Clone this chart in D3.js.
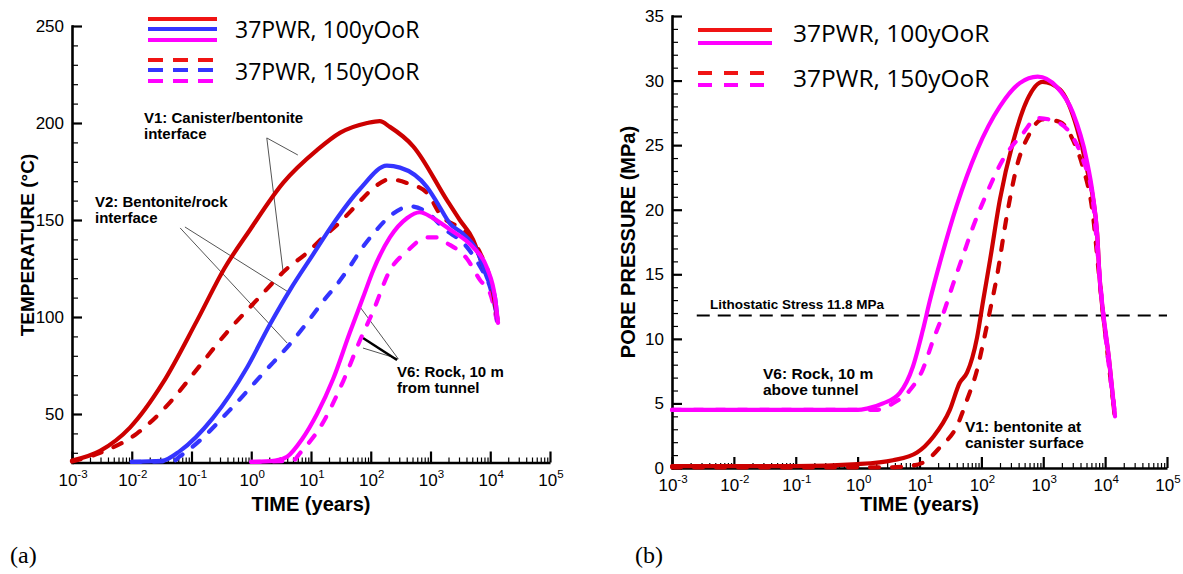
<!DOCTYPE html>
<html>
<head>
<meta charset="utf-8">
<script src="https://cdn.jsdelivr.net/npm/d3@7"></script>
<style>
body { margin: 0; background: #fff; }
svg text { font-family: "Liberation Sans", Arial, sans-serif; fill: #000; }
</style>
</head>
<body>
<svg id="fig" width="1183" height="574"></svg>
<script>
// # DATA

// Tick labels
var timeDecades = [-3, -2, -1, 0, 1, 2, 3, 4, 5];
var tempTicks = [50, 100, 150, 200, 250];
var presTicks = [0, 5, 10, 15, 20, 25, 30, 35];
var legendLabels = ['37PWR, 100yOoR', '37PWR, 150yOoR'];

// (a) Temperature: [log10(time, years), degC]
var tempV1_100 = [[-3,26],[-2.53,31],[-2.03,43],[-1.48,66],[-0.91,98],[-0.45,125],[-0.02,145],[0.53,169],[1.10,186],[1.49,195],[1.94,200],[2.15,201],[2.32,198],[2.71,188],[3.28,160],[3.49,150],[3.71,140],[3.88,126],[4.05,112],[4.12,99]];
var tempV1_150 = [[-3,25.5],[-2.53,30],[-1.91,40],[-1.36,56],[-0.91,73],[-0.41,92],[0.10,109],[0.60,125],[0.93,133],[1.20,141],[1.49,149],[1.77,158],[1.99,165],[2.32,171],[2.61,169],[2.94,164],[3.16,153],[3.61,143],[3.83,133],[4.00,119],[4.11,99]];
var tempV2_100 = [[-2,25.3],[-1.5,25.8],[-1.19,31],[-0.64,48],[-0.07,74],[0.31,96],[0.65,114],[1.03,132],[1.37,148],[1.82,166],[2.27,178],[2.49,177],[2.94,167],[3.11,159],[3.33,148],[3.54,143],[3.78,134],[3.95,120],[4.08,110],[4.12,98]];
var tempV2_150 = [[-2,25.3],[-1.3,25.8],[-1.2,28],[-0.91,35],[-0.36,52],[0.2,71],[0.7,88],[1.03,101],[1.2,108],[1.44,117],[1.65,126],[1.82,134],[2.1,145],[2.32,152],[2.66,157],[2.94,154],[3.21,146],[3.61,136],[3.83,126],[4.0,115],[4.11,101]];
var tempV6_100 = [[0,25.3],[0.4,26],[0.6,28],[0.85,37],[1.1,50],[1.37,68],[1.65,92],[1.87,110],[2.04,124],[2.32,141],[2.61,151],[2.82,154],[3.04,151],[3.33,145],[3.71,136],[3.95,125],[4.08,110],[4.13,97]];
var tempV6_150 = [[0,25.3],[0.7,26],[0.82,30],[1.15,43],[1.54,67],[1.82,88],[2.04,103],[2.32,124],[2.61,134],[2.94,141],[3.1,141],[3.28,138],[3.61,130],[3.83,119],[4.0,112],[4.11,98]];

// (b) Pore pressure: [log10(time, years), MPa]
var presV1_100 = [[-3,0.15],[-1,0.15],[0,0.3],[0.57,0.6],[0.96,1.2],[1.22,2.4],[1.49,4.5],[1.65,6.6],[1.77,7.4],[1.93,10.1],[2.03,13.0],[2.14,16.1],[2.3,20.8],[2.51,25.2],[2.74,28.5],[2.99,29.9],[3.27,29.3],[3.54,26.4],[3.7,23.3],[3.87,18.2],[3.91,14.8],[3.96,12.2],[4.06,8.5],[4.15,4.2]];
var presV1_150 = [[-3,0.05],[0.5,0.05],[0.9,0.2],[1.12,0.6],[1.33,1.6],[1.6,3.2],[1.77,5.3],[1.93,7.6],[2.03,9.7],[2.14,12.2],[2.25,14.8],[2.41,19.5],[2.57,23.3],[2.78,25.9],[2.99,27],[3.27,26.8],[3.48,25.4],[3.64,23.3],[3.8,19.7],[3.9,15],[4.0,10.5],[4.15,4.4]];
var presV6_100 = [[-3,4.5],[-1,4.5],[0,4.5],[0.15,4.6],[0.41,5.0],[0.68,5.8],[0.89,7.8],[1.05,10.6],[1.17,13.0],[1.33,15.9],[1.6,20.3],[1.93,24.6],[2.3,28],[2.62,29.8],[2.91,30.3],[3.22,29.5],[3.48,27.5],[3.7,23.9],[3.8,21.2],[3.87,18.2],[3.91,14.8],[3.96,12.4],[4.06,8.6],[4.16,4.0]];
var presV6_150 = [[-3,4.5],[0.3,4.5],[0.57,5.0],[0.84,6.0],[1.05,7.6],[1.22,9.9],[1.38,11.9],[1.54,14.2],[1.7,16.4],[1.86,18.6],[2.09,21.3],[2.35,23.9],[2.67,25.9],[2.9,27.1],[3.22,26.8],[3.48,25.6],[3.64,23.9],[3.8,20.8],[3.9,15.5],[4.0,10.5],[4.16,4.2]];
var lithoStress = 11.8;

// # STYLE
var cRed = '#cc0000';
var cRedKey = '#f01414';
var cBlue = '#3434ff';
var cMag = '#ff00ff';
var dashCurve = '9,13';

var svg = d3.select('#fig');

// Scales
var xA = d3.scaleLog().domain([1e-3, 1e5]).range([72, 550]);
var yA = d3.scaleLinear().domain([25, 250]).range([462.5, 26]);
var xB = d3.scaleLog().domain([1e-3, 1e5]).range([672, 1167]);
var yB = d3.scaleLinear().domain([0, 35]).range([468, 16]);

// # INIT
init();

function init(){
    // (a)
    drawAxes(xA, yA, tempTicks, d3.range(30, 250, 10));
    drawLeaders(xA, yA);
    drawCurve(xA, yA, tempV1_150, cRed, true);
    drawCurve(xA, yA, tempV2_150, cBlue, true);
    drawCurve(xA, yA, tempV6_150, cMag, true);
    drawCurve(xA, yA, tempV1_100, cRed, false);
    drawCurve(xA, yA, tempV2_100, cBlue, false);
    drawCurve(xA, yA, tempV6_100, cMag, false);
    drawLegend(148, 217, [19, 29, 40], [60, 70, 81], [cRedKey, cBlue, cMag], '15,10', 235, [38, 80], 23);
    drawTitles(xA, 34, 245, 'TEMPERATURE (\u00B0C)', 19, 'TIME (years)', 511);
    note(144, 123, ['V1: Canister/bentonite', 'interface'], 15);
    note(95, 207, ['V2: Bentonite/rock', 'interface'], 15);
    note(397, 377, ['V6: Rock, 10 m', 'from tunnel'], 15);
    svg.append('text').attr('x', 10).attr('y', 563)
        .style('font-family', '"Liberation Serif", serif').attr('font-size', 24).text('(a)');

    // (b)
    drawAxes(xB, yB, presTicks, d3.range(1, 35, 1));
    drawLitho();
    drawCurve(xB, yB, presV1_150, cRed, true);
    drawCurve(xB, yB, presV1_100, cRed, false);
    drawCurve(xB, yB, presV6_150, cMag, true);
    drawCurve(xB, yB, presV6_100, cMag, false);
    drawLegend(698, 772, [30, 43], [73, 85], [cRedKey, cMag], '14,12', 793, [42, 87], 24.5);
    drawTitles(xB, 635, 242, 'PORE PRESSURE (MPa)', 20, 'TIME (years)', 511);
    note(763, 379, ['V6: Rock, 10 m', 'above tunnel'], 15.5);
    note(965, 432, ['V1: bentonite at', 'canister surface'], 15.5);
    svg.append('text').attr('x', 635).attr('y', 563)
        .style('font-family', '"Liberation Serif", serif').attr('font-size', 24).text('(b)');
    return 0;
}

// # FUNCTIONS

function yrs(e){
    return Math.pow(10, e);
}

function drawAxes(xs, ys, yMajor, yMinor){
    var x0 = xs.range()[0];
    var y0 = ys.range()[0];

    // ## log minor ticks on time axis
    var xMinor = [];
    timeDecades.slice(0, -1).forEach(function(e){
        for (var m = 2; m < 10; m++){ xMinor.push(m * yrs(e)); }
    });
    var gxm = svg.append('g').attr('transform', 'translate(0,' + y0 + ')')
        .call(d3.axisBottom(xs).tickValues(xMinor).tickSize(-5).tickFormat(''));
    gxm.select('.domain').remove();
    gxm.selectAll('line').attr('stroke', '#000').attr('stroke-width', 1.2);

    var gym = svg.append('g').attr('transform', 'translate(' + x0 + ',0)')
        .call(d3.axisLeft(ys).tickValues(yMinor.filter(function(v){ return yMajor.indexOf(v) < 0; }))
            .tickSize(-6).tickFormat(''));
    gym.select('.domain').remove();
    gym.selectAll('line').attr('stroke', '#000').attr('stroke-width', 1.2);

    // ## major ticks
    var gx = svg.append('g').attr('transform', 'translate(0,' + y0 + ')')
        .call(d3.axisBottom(xs).tickValues(timeDecades.map(yrs)).tickSizeInner(-11).tickSizeOuter(0).tickFormat(''));
    gx.selectAll('line').attr('stroke', '#000').attr('stroke-width', 2.2);
    gx.select('.domain').attr('stroke', '#000').attr('stroke-width', 2.6);

    var gy = svg.append('g').attr('transform', 'translate(' + x0 + ',0)')
        .call(d3.axisLeft(ys).tickValues(yMajor).tickSizeInner(-10).tickSizeOuter(0).tickPadding(8));
    gy.selectAll('line').attr('stroke', '#000').attr('stroke-width', 2.2);
    gy.select('.domain').attr('stroke', '#000').attr('stroke-width', 2.6).attr('stroke-linecap', 'square');
    gy.selectAll('text').attr('font-size', 17).attr('font-family', null).attr('fill', '#000');

    // ## 10^n labels
    var gl = svg.append('g');
    timeDecades.forEach(function(e){
        var t = gl.append('text')
            .attr('x', xs(yrs(e)) + 1)
            .attr('y', y0 + 23)
            .attr('text-anchor', 'middle')
            .attr('font-size', 17);
        t.append('tspan').text('10');
        t.append('tspan').attr('dy', -8).attr('font-size', 11.5).text(e);
    });
    return 0;
}

function drawCurve(xs, ys, data, color, dashed){
    var line = d3.line()
        .x(function(d){ return xs(yrs(d[0])); })
        .y(function(d){ return ys(d[1]); })
        .curve(d3.curveMonotoneX);
    svg.append('path')
        .datum(data)
        .attr('d', line)
        .attr('fill', 'none')
        .attr('stroke', color)
        .attr('stroke-width', 4.2)
        .attr('stroke-linecap', 'round')
        .attr('stroke-linejoin', 'round')
        .attr('stroke-dasharray', dashed ? dashCurve : null);
    return 0;
}

function drawLegend(xl, xr, ySolid, yDash, colors, dash, xt, yText, fs){
    colors.forEach(function(c, i){
        svg.append('line').attr('x1', xl).attr('x2', xr).attr('y1', ySolid[i]).attr('y2', ySolid[i])
            .attr('stroke', c).attr('stroke-width', 4);
        svg.append('line').attr('x1', xl).attr('x2', xr).attr('y1', yDash[i]).attr('y2', yDash[i])
            .attr('stroke', c).attr('stroke-width', 4).attr('stroke-dasharray', dash);
    });
    legendLabels.forEach(function(s, i){
        svg.append('text').attr('x', xt).attr('y', yText[i])
            .style('font-family', '"Open Sans", sans-serif')
            .attr('font-size', fs).text(s);
    });
    return 0;
}

function drawTitles(xs, yLabX, yLabY, yLab, yFs, xLab, xLabY){
    var r = xs.range();
    svg.append('text')
        .attr('transform', 'translate(' + yLabX + ',' + yLabY + ') rotate(-90)')
        .attr('text-anchor', 'middle').attr('font-weight', 'bold').attr('font-size', yFs)
        .text(yLab);
    svg.append('text')
        .attr('x', r[0] + (r[1] - r[0]) * 0.5)
        .attr('y', xLabY)
        .attr('text-anchor', 'middle').attr('font-weight', 'bold').attr('font-size', 20)
        .text(xLab);
    return 0;
}

function note(x, y, lines, fs){
    var t = svg.append('text').attr('x', x).attr('y', y)
        .attr('font-weight', 'bold').attr('font-size', fs);
    lines.forEach(function(s, i){
        t.append('tspan').attr('x', x).attr('dy', i === 0 ? 0 : 15.5).text(s);
    });
    return 0;
}

function leader(xs, ys, a, b, w){
    svg.append('line')
        .attr('x1', xs(yrs(a[0]))).attr('y1', ys(a[1]))
        .attr('x2', xs(yrs(b[0]))).attr('y2', ys(b[1]))
        .attr('stroke', w > 1 ? '#000' : '#555').attr('stroke-width', w);
    return 0;
}

function drawLeaders(xs, ys){
    // V1
    leader(xs, ys, [0.26, 192.3], [0.78, 183.5], 1);
    leader(xs, ys, [0.26, 192.3], [0.53, 124.2], 1);
    // V2
    leader(xs, ys, [-1.19, 145.9], [0.60, 86.6], 1);
    leader(xs, ys, [-1.11, 146.4], [0.62, 112.9], 1);
    // V6
    leader(xs, ys, [2.46, 78.4], [1.82, 105.2], 1);
    leader(xs, ys, [2.46, 78.4], [1.87, 84.0], 1);
    leader(xs, ys, [1.87, 89.2], [2.44, 77.8], 2.5);
    return 0;
}

function drawLitho(){
    svg.append('line')
        .attr('x1', xB(yrs(-2.6))).attr('x2', xB(1e5))
        .attr('y1', yB(lithoStress)).attr('y2', yB(lithoStress))
        .attr('stroke', '#000').attr('stroke-width', 2).attr('stroke-dasharray', '13,8');
    svg.append('text').attr('x', 710).attr('y', 309)
        .attr('font-weight', 'bold').attr('font-size', 13.5)
        .text('Lithostatic Stress ' + lithoStress + ' MPa');
    return 0;
}
</script>
</body>
</html>
